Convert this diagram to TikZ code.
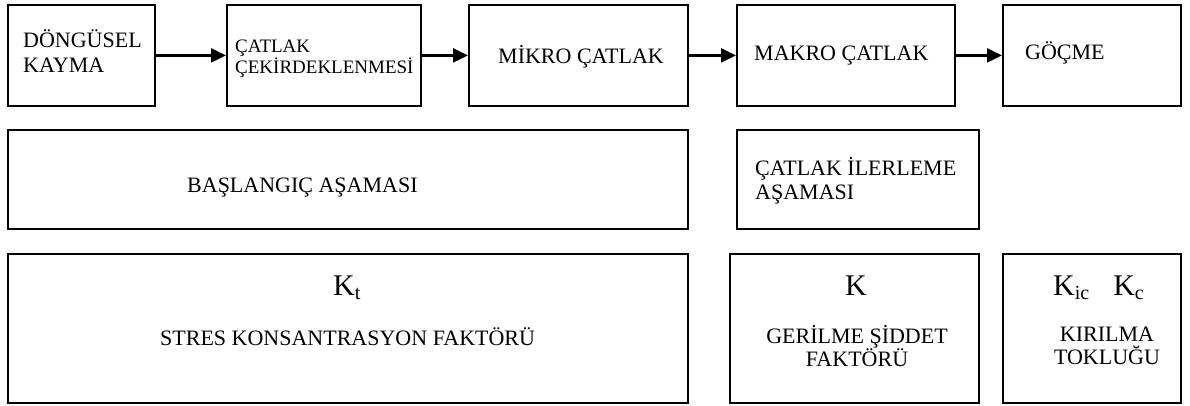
\documentclass[tikz,border=0pt]{standalone}
\usepackage{fontspec}
\setmainfont{Liberation Serif}
\usetikzlibrary{arrows.meta}
\begin{document}
\begin{tikzpicture}[x=1pt,y=-1pt,
  box/.style={draw=black,line width=1.8pt,rectangle,inner sep=0pt,anchor=north west},
  txt/.style={inner sep=0pt,anchor=base west,font=\fontsize{22}{25}\selectfont},
  txtc/.style={inner sep=0pt,anchor=base,font=\fontsize{22}{25}\selectfont},
  sml/.style={inner sep=0pt,anchor=base west,font=\fontsize{19}{21}\selectfont},
  big/.style={inner sep=0pt,anchor=base west,font=\fontsize{30}{30}\selectfont},
  flow/.style={line width=2.2pt,-{Triangle[length=15pt,width=14pt]}}]
\useasboundingbox (0,0) rectangle (1190,405);
% row 1
\node[box,minimum width=147pt,minimum height=101pt] (a) at (7,4) {};
\node[box,minimum width=194pt,minimum height=101pt] (b) at (226,4) {};
\node[box,minimum width=219pt,minimum height=101pt] (c) at (468,4) {};
\node[box,minimum width=218pt,minimum height=101pt] (d) at (736,4) {};
\node[box,minimum width=178pt,minimum height=101pt] (e) at (1002,4) {};
\node[txt] (ta1) at (23,47) {DÖNGÜSEL};
\node[txt] (ta2) at (23,72) {KAYMA};
\node[sml] (tb1) at (235,52) {ÇATLAK};
\node[sml] (tb2) at (235,73) {ÇEKİRDEKLENMESİ};
\node[txt] (tc) at (498,63) {MİKRO ÇATLAK};
\node[txt] (td) at (754,60) {MAKRO ÇATLAK};
\node[txt] (te) at (1025,59) {GÖÇME};
\draw[flow] (a.east) -- (b.west);
\draw[flow] (b.east) -- (c.west);
\draw[flow] (c.east) -- (d.west);
\draw[flow] (d.east) -- (e.west);
% row 2
\node[box,minimum width=680pt,minimum height=99pt] (f) at (7,129) {};
\node[box,minimum width=242pt,minimum height=99pt] (g) at (736,129) {};
\node[txt] (tf) at (187,192) {BAŞLANGIÇ AŞAMASI};
\node[txt] (tg1) at (755,175) {ÇATLAK İLERLEME};
\node[txt] (tg2) at (755,199) {AŞAMASI};
% row 3
\node[box,minimum width=680pt,minimum height=149pt] (h) at (7,253) {};
\node[box,minimum width=249pt,minimum height=149pt] (i) at (729,253) {};
\node[box,minimum width=178pt,minimum height=149pt] (j) at (1002,253) {};
\node[big] (th1) at (333,295) {K\raisebox{-4pt}{\fontsize{20}{20}\selectfont t}};
\node[txt] (th2) at (160,345) {STRES KONSANTRASYON FAKTÖRÜ};
\node[big] (ti1) at (845,295) {K};
\node[txtc] (ti2) at (857,343) {GERİLME ŞİDDET};
\node[txtc] (ti3) at (857,366) {FAKTÖRÜ};
\node[big] (tj1) at (1053,295) {K\raisebox{-4pt}{\fontsize{20}{20}\selectfont ic}\hspace{24pt}K\raisebox{-4pt}{\fontsize{20}{20}\selectfont c}};
\node[txtc] (tj2) at (1107,341) {KIRILMA};
\node[txtc] (tj3) at (1107,364) {TOKLUĞU};
\end{tikzpicture}
\end{document}
